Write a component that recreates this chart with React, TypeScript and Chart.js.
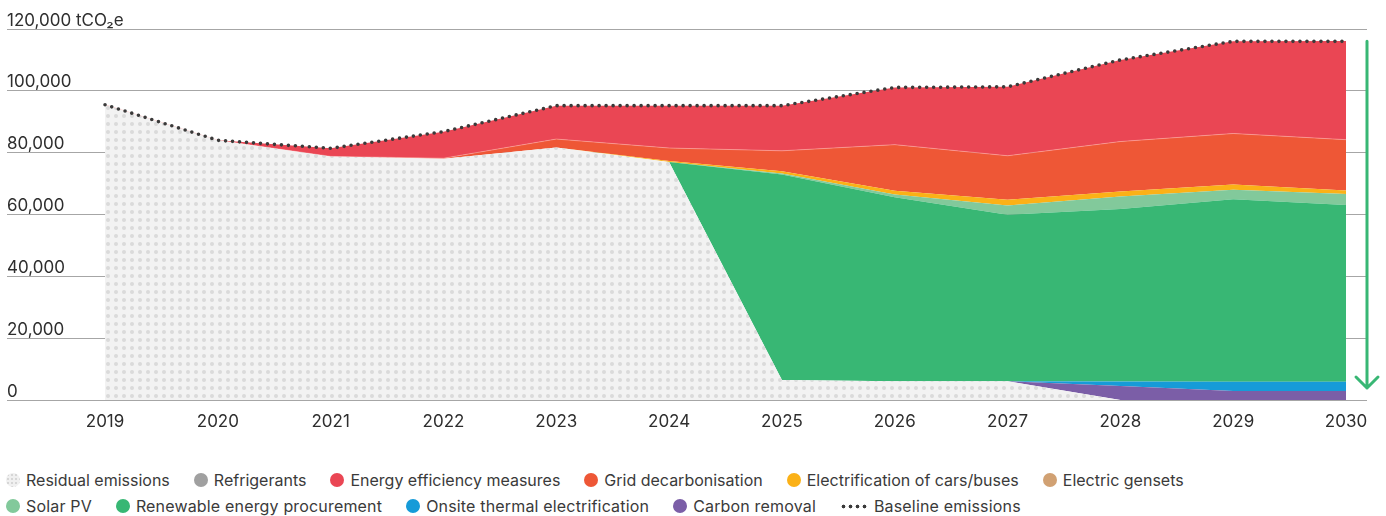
import React, { useEffect, useRef } from "react";
import { Chart, registerables } from "chart.js";

Chart.register(...registerables);

// Years on the horizontal axis
const years = [2019, 2020, 2021, 2022, 2023, 2024, 2025, 2026, 2027, 2028, 2029, 2030];

// Emissions by component, tCO2e (stacked from the bottom up)
const residualEmissions = [95500, 84000, 78800, 78000, 81700, 77000, 6450, 6100, 6100, 0, 0, 0];
const carbonRemoval = [0, 0, 0, 0, 0, 0, 0, 0, 0, 4500, 2900, 2900];
const onsiteThermal = [0, 0, 0, 0, 0, 0, 0, 0, 0, 1500, 3000, 3000];
const renewableProcurement = [0, 0, 0, 0, 0, 0, 66450, 59500, 53800, 55800, 59000, 57200];
const solarPV = [0, 0, 0, 0, 0, 0, 400, 900, 3000, 4000, 3100, 3500];
const electricGensets = [0, 0, 0, 0, 0, 0, 0, 0, 0, 0, 0, 0];
const electrificationVehicles = [0, 0, 0, 0, 0, 300, 700, 1200, 1900, 1600, 1700, 1200];
const gridDecarbonisation = [0, 0, 0, 200, 2700, 4200, 6600, 14900, 14200, 16200, 16500, 16400];
const refrigerants = [0, 0, 0, 0, 0, 0, 0, 0, 0, 0, 0, 0];
const energyEfficiency = [0, 0, 2600, 8600, 10800, 13700, 14600, 18500, 22300, 26400, 29800, 31900];
const baselineEmissions = [95500, 84000, 81400, 86800, 95200, 95200, 95200, 101100, 101300, 110000, 116000, 116000];

// Value axis
const yTicks = [0, 20000, 40000, 60000, 80000, 100000, 120000];
const yUnit = "tCO₂e";

const RED = "#ea4654";
const ORANGE = "#ee5736";
const YELLOW = "#fbb117";
const TAN = "#d1a173";
const LIGHT_GREEN = "#82c99b";
const GREEN = "#38b774";
const BLUE = "#169bd8";
const PURPLE = "#7b5ea7";
const GREY = "#a0a0a0";
const TEXT = "#2e2e2e";
const FONT = "Inter, 'Noto Sans', sans-serif";

type LegendItem = { label: string; color?: string; kind?: "dots" | "line" };

const legendRows: LegendItem[][] = [
  [
    { label: "Residual emissions", kind: "dots" },
    { label: "Refrigerants", color: GREY },
    { label: "Energy efficiency measures", color: RED },
    { label: "Grid decarbonisation", color: ORANGE },
    { label: "Electrification of cars/buses", color: YELLOW },
    { label: "Electric gensets", color: TAN },
  ],
  [
    { label: "Solar PV", color: LIGHT_GREEN },
    { label: "Renewable energy procurement", color: GREEN },
    { label: "Onsite thermal electrification", color: BLUE },
    { label: "Carbon removal", color: PURPLE },
    { label: "Baseline emissions", kind: "line" },
  ],
];
const legendRowTracking = ["0px", "0.17px"];

// Green arrow from the 2030 baseline down to zero
const reductionArrow = {
  id: "reductionArrow",
  afterDatasetsDraw(chart: any) {
    const { ctx, chartArea, scales } = chart;
    const x = chartArea.right;
    const top = scales.y.getPixelForValue(baselineEmissions[baselineEmissions.length - 1]);
    const bottom = scales.y.getPixelForValue(0) - 12;
    ctx.save();
    ctx.strokeStyle = GREEN;
    ctx.lineWidth = 3;
    ctx.lineCap = "round";
    ctx.lineJoin = "round";
    ctx.beginPath();
    ctx.moveTo(x, top);
    ctx.lineTo(x, bottom);
    ctx.moveTo(x - 11, bottom - 11);
    ctx.lineTo(x, bottom);
    ctx.lineTo(x + 11, bottom - 11);
    ctx.stroke();
    ctx.restore();
  },
};

function Marker({ item }: { item: LegendItem }) {
  if (item.kind === "line") {
    return (
      <span
        style={{
          display: "inline-block",
          width: 27,
          height: 5,
          marginRight: 7,
          backgroundImage: "radial-gradient(circle, #3a3a3a 1.8px, transparent 2.1px)",
          backgroundSize: "7px 5px",
        }}
      />
    );
  }
  if (item.kind === "dots") {
    return (
      <span
        style={{
          display: "inline-block",
          width: 14,
          height: 14,
          borderRadius: "50%",
          marginRight: 6,
          backgroundColor: "#f0f0f0",
          backgroundImage: "radial-gradient(circle, #d6d6d6 1px, transparent 1.4px)",
          backgroundSize: "4px 4px",
        }}
      />
    );
  }
  return (
    <span
      style={{
        display: "inline-block",
        width: 14,
        height: 14,
        borderRadius: "50%",
        marginRight: 6,
        backgroundColor: item.color,
      }}
    />
  );
}

export default function App() {
  const canvasRef = useRef<HTMLCanvasElement>(null);

  useEffect(() => {
    const canvas = canvasRef.current!;

    // Dotted fill for the residual emissions area
    const tile = document.createElement("canvas");
    tile.width = 8;
    tile.height = 8;
    const t = tile.getContext("2d")!;
    t.fillStyle = "#f2f2f2";
    t.fillRect(0, 0, 8, 8);
    t.fillStyle = "#dadada";
    t.beginPath();
    t.arc(4, 4, 2, 0, Math.PI * 2);
    t.fill();
    const dotPattern = canvas.getContext("2d")!.createPattern(tile, "repeat")!;

    const area = (label: string, data: number[], color: any, fill: string, extra: any = {}) => ({
      label,
      data,
      backgroundColor: color,
      borderWidth: 0,
      pointRadius: 0,
      fill,
      stack: "abatement",
      tension: 0,
      ...extra,
    });

    const chart = new Chart(canvas, {
      type: "line",
      data: {
        labels: years,
        datasets: [
          area("Residual emissions", residualEmissions, dotPattern, "origin"),
          area("Carbon removal", carbonRemoval, PURPLE, "-1"),
          area("Onsite thermal electrification", onsiteThermal, BLUE, "-1"),
          area("Renewable energy procurement", renewableProcurement, GREEN, "-1"),
          area("Solar PV", solarPV, LIGHT_GREEN, "-1"),
          area("Electric gensets", electricGensets, TAN, "-1"),
          area("Electrification of cars/buses", electrificationVehicles, YELLOW, "-1"),
          area("Grid decarbonisation", gridDecarbonisation, ORANGE, "-1", {
            borderWidth: 1,
            borderColor: "rgba(255,170,170,0.55)",
          }),
          area("Refrigerants", refrigerants, GREY, "-1"),
          area("Energy efficiency measures", energyEfficiency, RED, "-1"),
          {
            label: "Baseline emissions",
            data: baselineEmissions,
            stack: "baseline",
            borderColor: "#3a3a3a",
            borderWidth: 3.6,
            borderDash: [0, 7],
            borderCapStyle: "round",
            pointRadius: 0,
            fill: false,
            tension: 0,
            order: -1,
          } as any,
        ],
      },
      options: {
        animation: false,
        responsive: true,
        maintainAspectRatio: false,
        layout: { padding: { left: 7, right: 19, top: 29, bottom: 0 } },
        plugins: {
          legend: { display: false },
          tooltip: { enabled: false },
        },
        scales: {
          x: {
            type: "linear",
            min: 2018.131,
            max: 2030.186,
            grid: { display: false, drawTicks: false },
            border: { display: false },
            afterBuildTicks: (s: any) => {
              s.ticks = years.map((v) => ({ value: v }));
            },
            afterFit: (s: any) => {
              s.height = 40;
            },
            ticks: {
              padding: 12,
              autoSkip: false,
              maxRotation: 0,
              color: TEXT,
              font: { family: FONT, size: 17 },
              callback: (v: any) => String(v),
            },
          },
          y: {
            stacked: true,
            min: 0,
            max: 120000,
            afterBuildTicks: (s: any) => {
              s.ticks = yTicks.map((v) => ({ value: v }));
            },
            afterFit: (s: any) => {
              s.width = 0;
            },
            grid: { color: "#a6a6a6", lineWidth: 1, drawTicks: false },
            border: { display: false },
            ticks: {
              mirror: true,
              padding: 0,
              labelOffset: -8.5,
              color: TEXT,
              font: { family: FONT, size: 17 },
              callback: (v: any) => {
                const s = Number(v).toLocaleString("en-US");
                return Number(v) === yTicks[yTicks.length - 1] ? `${s} ${yUnit}` : s;
              },
            },
          },
        },
      },
      plugins: [reductionArrow],
    });

    return () => chart.destroy();
  }, []);

  return (
    <div style={{ position: "absolute", left: 0, top: 0, width: 1386, height: 516, background: "#fff" }}>
      <div style={{ position: "absolute", left: 0, top: 0, width: 1386, height: 440 }}>
        <canvas ref={canvasRef} />
      </div>
      {legendRows.map((row, r) => (
        <div
          key={r}
          style={{
            position: "absolute",
            left: 6,
            top: 470 + r * 26,
            height: 20,
            display: "flex",
            alignItems: "center",
            gap: 24,
            fontFamily: FONT,
            fontSize: 16,
            letterSpacing: legendRowTracking[r],
            color: "#3a3a3a",
            whiteSpace: "nowrap",
          }}
        >
          {row.map((item) => (
            <span key={item.label} style={{ display: "inline-flex", alignItems: "center" }}>
              <Marker item={item} />
              {item.label}
            </span>
          ))}
        </div>
      ))}
    </div>
  );
}
